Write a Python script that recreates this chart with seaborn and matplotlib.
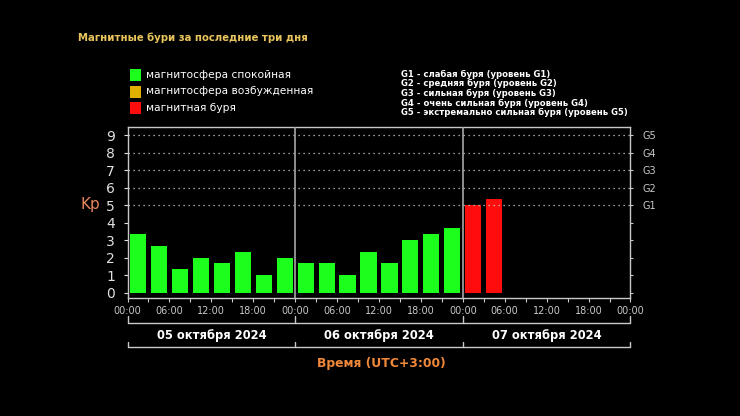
import matplotlib
matplotlib.use("Agg")
import matplotlib.pyplot as plt
import matplotlib.transforms as mtransforms
from matplotlib.lines import Line2D
from matplotlib.patches import Rectangle
import seaborn as sns
import pandas as pd

# ---- data ----
slot_hours = [1.5 + 3 * i for i in range(18)]
kp_values = [3.33, 2.67, 1.33, 2.0, 1.67, 2.33, 1.0, 2.0,
             1.67, 1.67, 1.0, 2.33, 1.67, 3.0, 3.33, 3.67,
             5.0, 5.33]
status = ["спокойная"] * 16 + ["буря"] * 2
day_labels = ["05 октября 2024", "06 октября 2024", "07 октября 2024"]
hour_labels = ["00:00", "06:00", "12:00", "18:00"]
legend_labels = ["магнитосфера спокойная", "магнитосфера возбужденная", "магнитная буря"]
g_lines = ["G1 - слабая буря (уровень G1)",
           "G2 - средняя буря (уровень G2)",
           "G3 - сильная буря (уровень G3)",
           "G4 - очень сильная буря (уровень G4)",
           "G5 - экстремально сильная буря (уровень G5)"]
g_ticks = ["G1", "G2", "G3", "G4", "G5"]
title = "Магнитные бури за последние три дня"

GREEN = "#1cff1c"
GOLD = "#e0b000"
RED = "#ff0c0c"
GRAY = "#c8c8c8"
palette = {"спокойная": GREEN, "возбужденная": GOLD, "буря": RED}

sns.set_style("dark")
plt.rcParams["font.family"] = ["DejaVu Sans"]

df = pd.DataFrame({"hour": slot_hours, "kp": kp_values, "status": status})

fig = plt.figure(figsize=(7.4, 4.16), dpi=100, facecolor="black")
ax = fig.add_axes([0.1723, 0.2837, 0.6797, 0.411])
ax.set_facecolor("black")

sns.barplot(data=df, x="hour", y="kp", hue="status", palette=palette,
            native_scale=True, dodge=False, width=0.77, legend=False,
            saturation=1, linewidth=0, ax=ax, zorder=2)

ax.set_xlim(0, 72)
ax.set_ylim(-0.3, 9.46)
ax.set_xlabel("")
ax.set_ylabel("")

# grid lines 5..9 dotted
for y in range(5, 10):
    ax.axhline(y, color="#d0d0d0", linestyle=(0, (1, 3)), linewidth=0.9, zorder=3)
# day dividers
for x in (24, 48):
    ax.axvline(x, color="#a8a8a8", linewidth=1.2, zorder=4)

for s in ax.spines.values():
    s.set_color(GRAY)
    s.set_linewidth(1.0)
    s.set_visible(True)

ax.set_yticks(range(10))
ax.set_yticklabels([str(i) for i in range(10)])
ax.tick_params(axis="y", left=True, direction="out", length=3, width=0.8,
               colors="#e0e0e0", labelsize=10, pad=6)
ax.set_xticks([d * 24 + h for d in range(3) for h in (0, 6, 12, 18)] + [72])
ax.set_xticklabels(hour_labels * 3 + ["00:00"])
ax.set_xticks([3 + 6 * i for i in range(12)], minor=True)
ax.tick_params(axis="x", which="both", bottom=True, direction="out", length=3,
               width=0.8, colors=GRAY, labelsize=7, pad=3)
ax.grid(False)

# right axis with G labels
ax2 = ax.twinx()
ax2.set_ylim(ax.get_ylim())
ax2.set_yticks(range(10))
ax2.set_yticklabels([""] * 5 + g_ticks)
ax2.tick_params(axis="y", right=True, direction="out", length=2.5, width=0.8,
                colors=GRAY, labelsize=7, pad=6)
ax2.grid(False)
for s in ax2.spines.values():
    s.set_visible(False)

# Kp label
fig.text(0.122, 1 - 205 / 416, "Kp", color="#e8875e", fontsize=11,
         ha="center", va="center")

# brackets below axis
trans = mtransforms.blended_transform_factory(ax.transData, fig.transFigure)
for ybase, ytop in ((1 - 323 / 416, 1 - 316 / 416), (1 - 347 / 416, 1 - 342 / 416)):
    fig.add_artist(Line2D([0, 72], [ybase, ybase], transform=trans,
                          color=GRAY, linewidth=1.0))
    for x in (0, 24, 48, 72):
        fig.add_artist(Line2D([x, x], [ybase, ytop], transform=trans,
                              color=GRAY, linewidth=1.0))
for i, lab in enumerate(day_labels):
    fig.text(12 + 24 * i, 1 - 335 / 416, lab, transform=trans, color="white",
             fontsize=8.3, fontweight="bold", ha="center", va="center")

fig.text(381 / 740, 1 - 363 / 416, "Время (UTC+3:00)", color="#f0883a",
         fontsize=8.9, fontweight="bold", ha="center", va="center")

# title
fig.text(78 / 740, 1 - 38 / 416, title, color="#e8c45c", fontsize=7.3,
         fontweight="bold", ha="left", va="center")

# colour legend
for i, (lab, col) in enumerate(zip(legend_labels, [GREEN, GOLD, RED])):
    yc = 75 + 16.5 * i
    fig.add_artist(Rectangle((130 / 740, 1 - (yc + 6) / 416), 11 / 740, 12 / 416,
                             transform=fig.transFigure, facecolor=col,
                             edgecolor="none"))
    fig.text(146 / 740, 1 - yc / 416, lab, color="white", fontsize=7.7,
             ha="left", va="center")

# G legend
for i, line in enumerate(g_lines):
    fig.text(401 / 740, 1 - (74.3 + 9.6 * i) / 416, line, color="white",
             fontsize=6.1, fontweight="bold", ha="left", va="center")

fig.savefig("out.png", dpi=100, facecolor="black")
